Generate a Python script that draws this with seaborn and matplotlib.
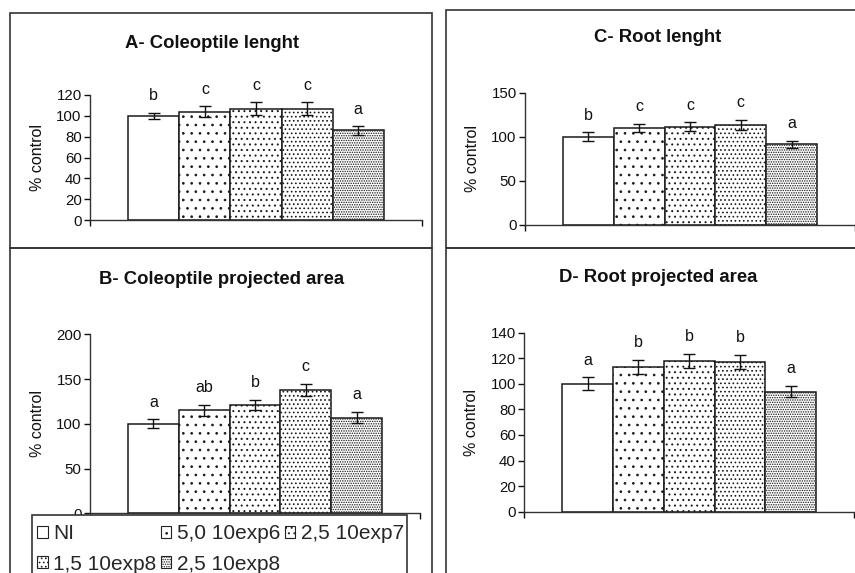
import matplotlib
matplotlib.use("Agg")
import matplotlib.pyplot as plt
from matplotlib.patches import Rectangle, Patch
import seaborn as sns
import pandas as pd

sns.set_theme(style="ticks")
plt.rcParams["font.family"] = ["Liberation Sans", "DejaVu Sans"]
plt.rcParams["hatch.linewidth"] = 0.7

W, H = 855, 573

treatments = ["NI", "5,0 10exp6", "2,5 10exp7", "1,5 10exp8", "2,5 10exp8"]
hatches = ["", "..", "...", "....", "......."]

# panel data (% of control)
coleoptile_length = [100, 104, 107, 107, 86]
coleoptile_length_err = [3, 5, 6, 6, 4]
coleoptile_length_letters = ["b", "c", "c", "c", "a"]

root_length = [100, 110, 111.5, 113.5, 91.5]
root_length_err = [5, 5, 5, 5.5, 4]
root_length_letters = ["b", "c", "c", "c", "a"]

coleoptile_area = [100, 115, 121, 138, 107]
coleoptile_area_err = [5, 6, 6, 7, 6]
coleoptile_area_letters = ["a", "ab", "b", "c", "a"]

root_area = [100, 113, 118, 117, 94]
root_area_err = [5, 5.5, 5.5, 5.7, 4.6]
root_area_letters = ["a", "b", "b", "b", "a"]


def px_axes(left, top, right, bottom):
    return [left / W, 1 - bottom / H, (right - left) / W, (bottom - top) / H]


def draw_panel(fig, rect, values, errs, letters, yticks):
    ax = fig.add_axes(px_axes(*rect))
    df = pd.DataFrame({"treatment": treatments, "value": values})
    sns.barplot(data=df, x="treatment", y="value", color="white", saturation=1,
                edgecolor="#1a1a1a", linewidth=1.1, width=1, errorbar=None, ax=ax)
    for p, h in zip(ax.patches, hatches):
        p.set_hatch(h)
    ax.errorbar(range(len(values)), values, yerr=errs, fmt="none", ecolor="#111111",
                elinewidth=1, capsize=4, capthick=1, zorder=5)
    for i, (v, e, l) in enumerate(zip(values, errs, letters)):
        ax.annotate(l, xy=(i, v + e), xytext=(0, 7), textcoords="offset points",
                    ha="center", va="bottom", fontsize=11.5, color="#111111")
    ax.set_xlim(-1.25, 5.25)
    ax.set_ylim(yticks[0], yticks[-1])
    ax.set_yticks(yticks)
    ax.set_xticks([-1.25, 5.25])
    ax.set_xticklabels(["", ""])
    ax.tick_params(axis="y", labelsize=10.8, length=4, width=1, colors="#111111", pad=2)
    ax.tick_params(axis="x", length=4, width=1, colors="#111111")
    ax.set_xlabel("")
    ax.set_ylabel("% control", fontsize=11.5, color="#111111", labelpad=8)
    for s in ["top", "right"]:
        ax.spines[s].set_visible(False)
    for s in ["left", "bottom"]:
        ax.spines[s].set_color("#333333")
        ax.spines[s].set_linewidth(1)
    ax.set_facecolor("none")
    return ax


fig = plt.figure(figsize=(W / 100, H / 100), dpi=100)

# panel frames
for (l, t, r, b) in [(10, 13, 432, 248), (446, 10, 870, 248),
                     (10, 248, 432, 590), (446, 248, 870, 590)]:
    fig.add_artist(Rectangle((l / W, 1 - b / H), (r - l) / W, (b - t) / H,
                             transform=fig.transFigure, fill=False,
                             edgecolor="#333333", linewidth=1.2, clip_on=False))

draw_panel(fig, (90, 95, 422, 220), coleoptile_length, coleoptile_length_err,
           coleoptile_length_letters, [0, 20, 40, 60, 80, 100, 120])
draw_panel(fig, (525, 92.7, 855, 225), root_length, root_length_err,
           root_length_letters, [0, 50, 100, 150])
draw_panel(fig, (90, 334.3, 420, 513.3), coleoptile_area, coleoptile_area_err,
           coleoptile_area_letters, [0, 50, 100, 150, 200])
draw_panel(fig, (524.3, 332.7, 854, 511.7), root_area, root_area_err,
           root_area_letters, [0, 20, 40, 60, 80, 100, 120, 140])

titles = [("A- Coleoptile lenght", 212, 43), ("C- Root lenght", 658, 38),
          ("B- Coleoptile projected area", 222, 280), ("D- Root projected area", 658, 277)]
for txt, x, y in titles:
    fig.text(x / W, 1 - y / H, txt, ha="center", va="center", fontsize=13.3,
             fontweight="bold", color="#111111")

# legend box
fig.add_artist(Rectangle((32 / W, 1 - 590 / H), (407 - 32) / W, (590 - 515) / H,
                         transform=fig.transFigure, facecolor="white",
                         edgecolor="#333333", linewidth=1.2, clip_on=False, zorder=4))
order = [0, 3, 1, 4, 2]
handles = [Patch(facecolor="white", edgecolor="#222222", hatch=hatches[i],
                 linewidth=0.8, label=treatments[i]) for i in order]
fig.legend(handles=handles, loc="upper left", bbox_to_anchor=(33 / W, 1 - 520 / H),
           ncol=3, frameon=False, fontsize=15, handlelength=0.5, handleheight=0.5,
           handletextpad=0.28, columnspacing=0.2, labelspacing=0.55, borderpad=0.2,
           borderaxespad=0)

fig.savefig("out.png", dpi=100)
